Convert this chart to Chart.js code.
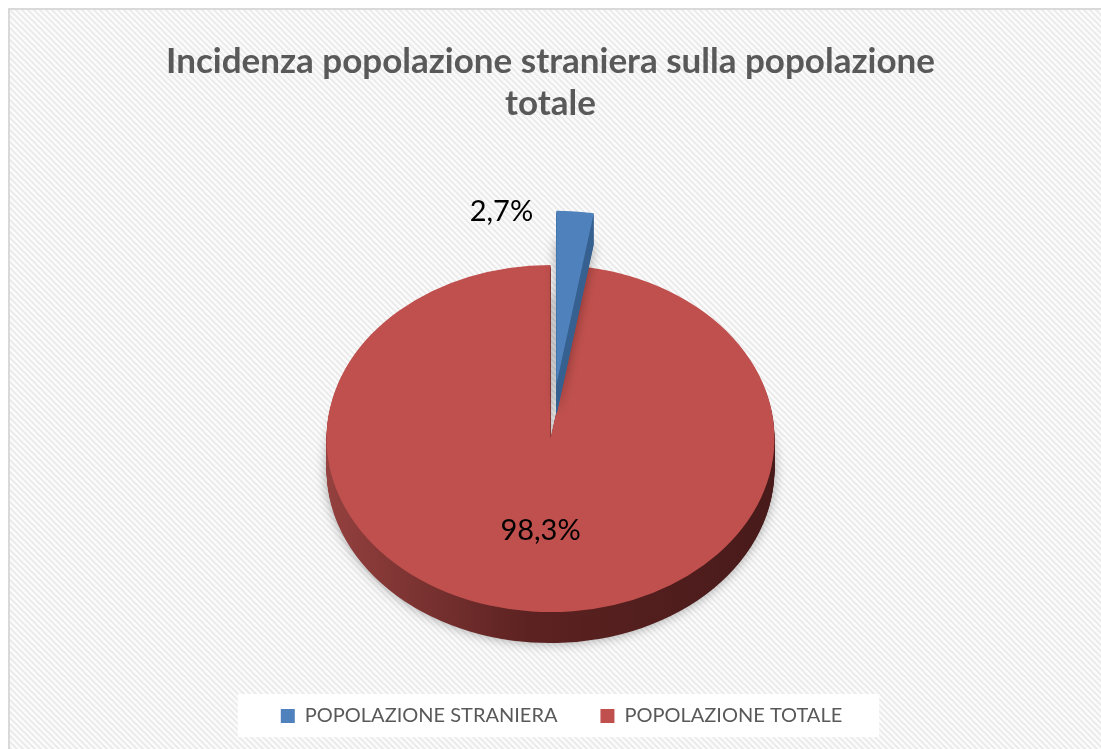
<!DOCTYPE html>
<html>
<head>
<meta charset="utf-8">
<script src="https://cdn.jsdelivr.net/npm/chart.js@4.4.0/dist/chart.umd.min.js"></script>
<style>
  html, body { margin: 0; padding: 0; background: #fff; }
  #wrap { width: 1101px; height: 749px; }
</style>
</head>
<body>
<div id="wrap"><canvas id="pie"></canvas></div>
<script>
const titleLines = ['Incidenza popolazione straniera sulla popolazione', 'totale'];
const categories = ['POPOLAZIONE STRANIERA', 'POPOLAZIONE TOTALE'];
const shares = [2.7, 98.3];
const sliceColors = ['#4F81BD', '#C0504D'];

// 3d look
const TILT = 0.775;     // vertical squash of the disc
const DEPTH = 31;       // thickness of the side, px
const EXPLODE = [70, 0];
const sideShades = [['#3f6c9f', '#35608f'], ['#94413f', '#481a1a']];

function squash(ctx, arc) {
  ctx.translate(arc.x, arc.y);
  ctx.scale(1, TILT);
  ctx.translate(-arc.x, -arc.y);
}

function wedge(ctx, arc) {
  ctx.beginPath();
  ctx.moveTo(arc.x, arc.y);
  ctx.arc(arc.x, arc.y, arc.outerRadius, arc.startAngle, arc.endAngle);
  ctx.closePath();
}

function sideFill(ctx, arc, i) {
  const g = ctx.createLinearGradient(arc.x - arc.outerRadius, 0, arc.x + arc.outerRadius, 0);
  g.addColorStop(0, sideShades[i][0]);
  g.addColorStop(0.45, i == 1 ? '#5c2221' : sideShades[i][1]);
  g.addColorStop(1, sideShades[i][1]);
  return g;
}

const backdrop = {
  id: 'backdrop',
  afterLayout(chart) {
    // nudge the legend row a little to the right, like the original
    chart.legend.left += 11;
    chart.legend.right += 11;
  },
  beforeDraw(chart) {
    const {ctx, width, height} = chart;
    const tile = document.createElement('canvas');
    tile.width = tile.height = 6;
    const t = tile.getContext('2d');
    t.fillStyle = '#fcfcfc';
    t.fillRect(0, 0, 6, 6);
    t.strokeStyle = '#ebebeb';
    t.lineWidth = 2;
    t.beginPath();
    t.moveTo(-1, -1); t.lineTo(7, 7);
    t.moveTo(-1, 5); t.lineTo(1, 7);
    t.moveTo(5, -1); t.lineTo(7, 1);
    t.stroke();

    ctx.save();
    ctx.fillStyle = '#fff';
    ctx.fillRect(0, 0, width, height);
    ctx.fillStyle = ctx.createPattern(tile, 'repeat');
    ctx.fillRect(10, 10, width - 10, height - 10);
    ctx.strokeStyle = '#d9d9d9';
    ctx.lineWidth = 2;
    ctx.beginPath();
    ctx.moveTo(9, height); ctx.lineTo(9, 9); ctx.lineTo(width, 9);
    ctx.stroke();

    // white plate behind the legend
    const boxes = chart.legend.legendHitBoxes;
    if (boxes && boxes.length) {
      const l = Math.min(...boxes.map(b => b.left)) - 43;
      const r = Math.max(...boxes.map(b => b.left + b.width)) + 37;
      const mid = boxes[0].top + boxes[0].height / 2;
      ctx.fillStyle = '#fff';
      ctx.fillRect(l, mid - 22, r - l, 43);
    }
    ctx.restore();
  }
};

const pie3d = {
  id: 'pie3d',
  beforeDatasetDraw(chart, args) {
    const ctx = chart.ctx;
    const arcs = args.meta.data;
    const order = arcs.map((a, i) => i).sort((a, b) => EXPLODE[a] - EXPLODE[b]);
    for (const i of order) {
      const arc = arcs[i];
      const mid = (arc.startAngle + arc.endAngle) / 2;
      ctx.save();
      squash(ctx, arc);
      ctx.translate(Math.cos(mid) * EXPLODE[i], Math.sin(mid) * EXPLODE[i]);
      for (let d = DEPTH; d > 0; d--) {
        ctx.save();
        ctx.translate(0, d / TILT);
        if (d === DEPTH) {
          ctx.shadowColor = 'rgba(0,0,0,0.35)';
          ctx.shadowBlur = 12;
        }
        ctx.fillStyle = sideFill(ctx, arc, i);
        wedge(ctx, arc);
        ctx.fill();
        ctx.restore();
      }
      arc.draw(ctx);
      ctx.restore();
    }
    return false;
  }
};

const pieLabels = {
  id: 'pieLabels',
  afterDatasetsDraw(chart) {
    const ctx = chart.ctx;
    const arcs = chart.getDatasetMeta(0).data;
    ctx.save();
    ctx.font = '29px Lato';
    ctx.fillStyle = '#000';
    ctx.textBaseline = 'middle';
    arcs.forEach((arc, i) => {
      const mid = (arc.startAngle + arc.endAngle) / 2;
      const text = shares[i].toFixed(1).replace('.', ',') + '%';
      let r = arc.outerRadius * 0.53, dx = 0;
      ctx.textAlign = 'center';
      if (arc.circumference < 0.5) {
        // thin slice: label sits outside, left of it
        r = arc.outerRadius;
        dx = -42;
        ctx.textAlign = 'right';
      }
      const x = arc.x + Math.cos(mid) * (r + EXPLODE[i]) + dx;
      const y = arc.y + Math.sin(mid) * (r + EXPLODE[i]) * TILT;
      ctx.fillText(text, x, y);
    });
    ctx.restore();
  }
};

new Chart(document.getElementById('pie'), {
  type: 'pie',
  data: {
    labels: categories,
    datasets: [{
      data: shares,
      backgroundColor: sliceColors,
      borderWidth: 0,
      radius: 224,
      clip: false
    }]
  },
  options: {
    responsive: true,
    maintainAspectRatio: false,
    animation: false,
    events: [],
    layout: { padding: { bottom: 13 } },
    plugins: {
      title: {
        display: true,
        text: titleLines,
        color: '#595959',
        font: { family: 'Lato', size: 35, weight: 'bold', lineHeight: '42px' },
        padding: { top: 41, bottom: 89 }
      },
      legend: {
        position: 'bottom',
        labels: {
          boxWidth: 14,
          boxHeight: 14,
          color: '#595959',
          font: { family: 'Lato', size: 20 },
          padding: 43
        }
      },
      tooltip: { enabled: false }
    }
  },
  plugins: [backdrop, pie3d, pieLabels]
});
</script>
</body>
</html>
